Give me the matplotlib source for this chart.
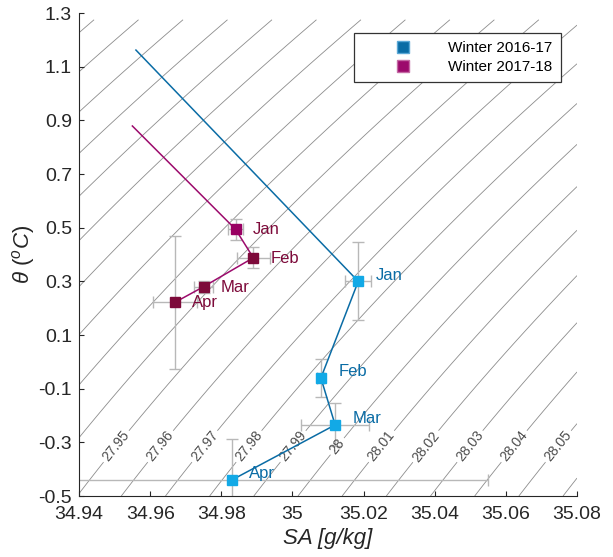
import numpy as np
import matplotlib
matplotlib.use('Agg')
import matplotlib.pyplot as plt
from matplotlib.lines import Line2D

plt.rcParams['font.family'] = ['Liberation Sans', 'DejaVu Sans']
plt.rcParams['mathtext.fontset'] = 'custom'
plt.rcParams['mathtext.it'] = 'Liberation Sans:italic'
plt.rcParams['mathtext.rm'] = 'Liberation Sans'
plt.rcParams['axes.unicode_minus'] = False

months = ['Jan', 'Feb', 'Mar', 'Apr']

# winter 2016-17: monthly means with std, plus the starting point of the track
sa_16 = [35.0185, 35.008, 35.012, 34.983]
th_16 = [0.300, -0.060, -0.235, -0.440]
sa_err_16 = [0.0036, 0.0010, 0.0095, 0.072]
th_err_16 = [0.145, 0.070, 0.080, 0.152]
start_16 = (34.956, 1.162)

# winter 2017-18
sa_17 = [34.984, 34.989, 34.975, 34.967]
th_17 = [0.494, 0.388, 0.280, 0.222]
sa_err_17 = [0.0020, 0.0046, 0.0028, 0.0061]
th_err_17 = [0.040, 0.040, 0.022, 0.248]
start_17 = (34.955, 0.879)

sigma_levels = np.round(np.arange(27.80, 28.105, 0.01), 2)
sigma_labelled = np.round(np.arange(27.95, 28.055, 0.01), 2)

xticks = [34.94, 34.96, 34.98, 35.0, 35.02, 35.04, 35.06, 35.08]
yticks = [-0.5, -0.3, -0.1, 0.1, 0.3, 0.5, 0.7, 0.9, 1.1, 1.3]

c_blue = '#0a6ca5'
c_blue_mk = '#12a9e6'
c_mag = '#9c0a6c'
c_mag_jan = '#990062'
c_maroon = '#7d0a3a'


def sigma0(sa, th):
    # surface density (UNESCO 1981) with SA converted to practical salinity
    sp = sa * 35.0 / 35.16504
    t = th
    rho_w = (999.842594 + 6.793952e-2 * t - 9.095290e-3 * t**2
             + 1.001685e-4 * t**3 - 1.120083e-6 * t**4 + 6.536332e-9 * t**5)
    a = 0.824493 - 4.0899e-3 * t + 7.6438e-5 * t**2 - 8.2467e-7 * t**3 + 5.3875e-9 * t**4
    b = -5.72466e-3 + 1.0227e-4 * t - 1.6546e-6 * t**2
    c = 4.8314e-4
    return rho_w + a * sp + b * sp**1.5 + c * sp**2 - 1000.0


fig = plt.figure(figsize=(6.13, 5.57), dpi=100)
ax = fig.add_axes([0.1289, 0.1095, 0.8124, 0.8671])

# isopycnals: unlabelled ones first, then the labelled set
sa_grid = np.linspace(34.94, 35.08, 300)
th_grid = np.linspace(-0.5, 1.275, 300)
SA, TH = np.meshgrid(sa_grid, th_grid)
SIG = sigma0(SA, TH)
plain_levels = [lev for lev in sigma_levels if lev not in sigma_labelled]
ax.contour(SA, TH, SIG, levels=plain_levels, colors='0.55', linewidths=0.6, zorder=1)
cs = ax.contour(SA, TH, SIG, levels=sigma_labelled, colors='0.55', linewidths=0.6, zorder=1)

label_th = -0.315
fine_sa = np.linspace(34.90, 35.12, 20000)
fine_sig = sigma0(fine_sa, label_th)
label_pos = [(fine_sa[np.argmin(np.abs(fine_sig - lev))], label_th) for lev in sigma_labelled]
ax.clabel(cs, fmt='%g', fontsize=10, colors='0.3',
          manual=label_pos, inline=True, inline_spacing=3)

# tracks
ax.plot([start_16[0]] + sa_16, [start_16[1]] + th_16, color=c_blue, lw=1.1, zorder=3)
ax.plot([start_17[0]] + sa_17, [start_17[1]] + th_17, color=c_mag, lw=1.1, zorder=3)

# error bars
ax.errorbar(sa_16, th_16, xerr=sa_err_16, yerr=th_err_16, fmt='none',
            ecolor='0.72', elinewidth=1.0, capsize=4.6, capthick=1.0, zorder=2)
ax.errorbar(sa_17, th_17, xerr=sa_err_17, yerr=th_err_17, fmt='none',
            ecolor='0.72', elinewidth=1.0, capsize=4.6, capthick=1.0, zorder=2)

# monthly markers
ax.plot(sa_16, th_16, ls='none', marker='s', ms=7, mfc=c_blue_mk, mec=c_blue_mk, zorder=4)
mag_faces = [c_mag_jan, c_maroon, c_maroon, c_maroon]
for x, y, fc in zip(sa_17, th_17, mag_faces):
    ax.plot(x, y, ls='none', marker='s', ms=7, mfc=fc, mec=fc, zorder=4)

for m, x, y in zip(months, sa_16, th_16):
    ax.annotate(m, (x, y), xytext=(12.5, 4.5), textcoords='offset points',
                color=c_blue, fontsize=12, va='center', ha='left', zorder=5)
for m, x, y in zip(months, sa_17, th_17):
    ax.annotate(m, (x, y), xytext=(12.5, -0.5), textcoords='offset points',
                color=c_maroon, fontsize=12, va='center', ha='left', zorder=5)

ax.set_xlim(34.94, 35.08)
ax.set_ylim(-0.5, 1.3)
ax.set_xticks(xticks)
ax.set_xticklabels(['%g' % v for v in xticks])
ax.set_yticks(yticks)
ax.set_yticklabels(['%g' % v for v in yticks])
ax.tick_params(direction='in', length=3.8, width=0.8, labelsize=14,
               colors='0.15', pad=5)
ax.tick_params(axis='x', pad=7)
for side in ['top', 'right']:
    ax.spines[side].set_visible(False)
for side in ['left', 'bottom']:
    ax.spines[side].set_color('0.15')
    ax.spines[side].set_linewidth(0.8)

ax.set_xlabel('SA [g/kg]', fontsize=16, style='italic', color='0.15', labelpad=4)
ax.set_ylabel(r'$\theta\ (^oC)$', fontsize=16, color='0.15', labelpad=1)

handles = [
    Line2D([], [], ls='none', marker='s', ms=8, mfc=c_blue, mec='#5aa8d6'),
    Line2D([], [], ls='none', marker='s', ms=8, mfc=c_mag, mec='#c46aa4'),
]
leg = ax.legend(handles, ['Winter 2016-17', 'Winter 2017-18'], loc='upper right',
                bbox_to_anchor=(0.968, 0.9586), borderaxespad=0, fontsize=11,
                handlelength=5.3, handletextpad=0.3, labelspacing=0.3,
                borderpad=0.55, fancybox=False, framealpha=1)
leg.get_frame().set_edgecolor('0.2')
leg.get_frame().set_linewidth(0.9)

fig.savefig('out.png', dpi=100)
